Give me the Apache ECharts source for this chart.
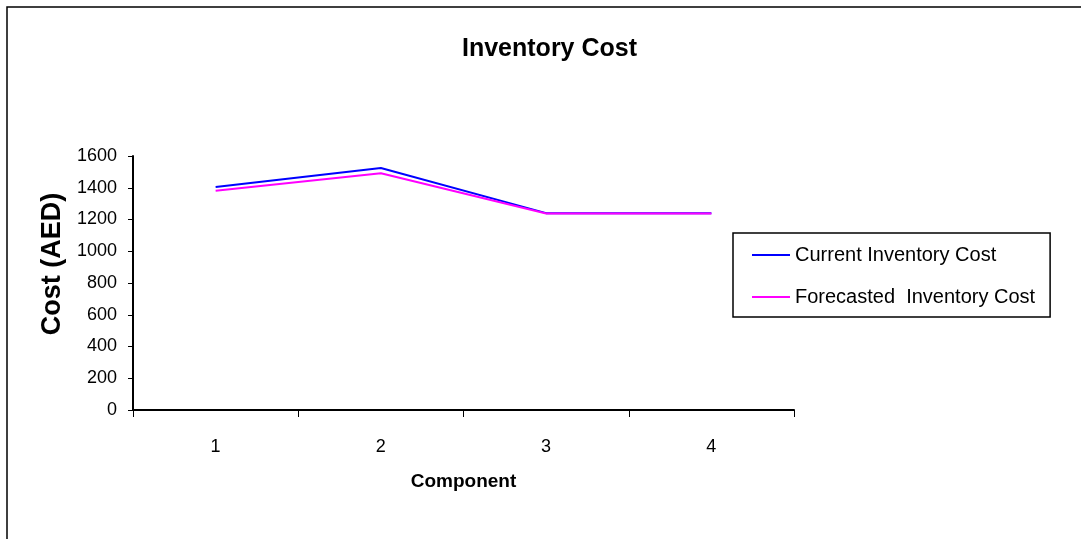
<!DOCTYPE html>
<html>
<head>
<meta charset="utf-8">
<script src="https://cdn.jsdelivr.net/npm/echarts@6/dist/echarts.min.js"></script>
<style>
html,body{margin:0;padding:0;background:#fff;}
#chart{width:1081px;height:539px;}
</style>
</head>
<body>
<div id="chart"></div>
<script>
const categories = ['1', '2', '3', '4'];
const currentCost = [1405, 1524, 1240, 1240];
const forecastCost = [1381, 1491, 1238, 1238];
const seriesNames = ['Current Inventory Cost', 'Forecasted  Inventory Cost'];
const yTicks = { min: 0, max: 1600, interval: 200 };

const FONT = '"Liberation Sans", Arial, sans-serif';
const chart = echarts.init(document.getElementById('chart'), null, { renderer: 'canvas' });
chart.setOption({
  backgroundColor: '#ffffff',
  animation: false,
  textStyle: { fontFamily: FONT, color: '#000' },
  title: {
    text: 'Inventory Cost',
    left: 457,
    top: 32,
    textStyle: { fontFamily: FONT, fontSize: 25, fontWeight: 'bold', color: '#000' }
  },
  graphic: [{
    type: 'rect',
    silent: true,
    shape: { x: 7, y: 7, width: 1200, height: 700 },
    style: { fill: 'none', stroke: '#000', lineWidth: 1.5 }
  }],
  legend: {
    orient: 'vertical',
    left: 733,
    top: 233,
    width: 322,
    padding: [12, 15, 10, 19],
    itemGap: 22,
    itemWidth: 38,
    itemHeight: 2,
    icon: 'rect',
    borderColor: '#000',
    borderWidth: 1.5,
    borderRadius: 0,
    textStyle: { fontFamily: FONT, fontSize: 20, color: '#000' },
    data: seriesNames
  },
  grid: { left: 133, right: 287, top: 156, bottom: 129, containLabel: false },
  xAxis: {
    type: 'category',
    data: categories,
    boundaryGap: true,
    name: 'Component',
    nameLocation: 'middle',
    nameGap: 62,
    nameTextStyle: { fontFamily: FONT, fontSize: 19, fontWeight: 'bold', color: '#000' },
    axisLine: { lineStyle: { color: '#000', width: 2 } },
    axisTick: { show: true, inside: false, length: 7, alignWithLabel: false, lineStyle: { color: '#000', width: 1 } },
    axisLabel: { fontFamily: FONT, fontSize: 18, color: '#000', margin: 28 },
    splitLine: { show: false }
  },
  yAxis: {
    type: 'value',
    min: yTicks.min,
    max: yTicks.max,
    interval: yTicks.interval,
    name: 'Cost (AED)',
    nameLocation: 'middle',
    nameGap: 57,
    nameRotate: 90,
    nameTextStyle: { fontFamily: FONT, fontSize: 27, fontWeight: 'bold', color: '#000', padding: [0, 0, 0, 38] },
    axisLine: { show: true, lineStyle: { color: '#000', width: 2 } },
    axisTick: { show: true, inside: false, length: 5, lineStyle: { color: '#000', width: 1 } },
    axisLabel: { fontFamily: FONT, fontSize: 18, color: '#000', margin: 16, formatter: function (v) { return String(v); } },
    splitLine: { show: false }
  },
  series: [
    {
      name: seriesNames[0],
      type: 'line',
      data: currentCost,
      showSymbol: false,
      symbol: 'none',
      color: '#0000ff',
      lineStyle: { color: '#0000ff', width: 2 }
    },
    {
      name: seriesNames[1],
      type: 'line',
      data: forecastCost,
      showSymbol: false,
      symbol: 'none',
      color: '#ff00ff',
      lineStyle: { color: '#ff00ff', width: 2 }
    }
  ]
});
</script>
</body>
</html>
